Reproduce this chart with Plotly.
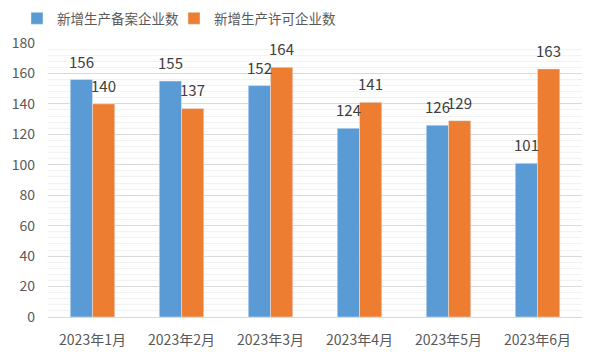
import plotly.graph_objects as go

months = ["2023年1月", "2023年2月", "2023年3月", "2023年4月", "2023年5月", "2023年6月"]
filed = [156, 155, 152, 124, 126, 101]
licensed = [140, 137, 164, 141, 129, 163]
series_names = ["新增生产备案企业数", "新增生产许可企业数"]
y_ticks = [0, 20, 40, 60, 80, 100, 120, 140, 160, 180]

font_family = "Noto Sans CJK SC, Microsoft YaHei, sans-serif"
colors = ["#5B9BD5", "#ED7D31"]
legends = ["legend", "legend2"]

fig = go.Figure()
for name, vals, col, lg in zip(series_names, [filed, licensed], colors, legends):
    fig.add_trace(go.Bar(x=list(range(len(months))), y=vals, name=name,
                         marker_color=col, legend=lg))

# data labels above bars
for k, vals in enumerate([filed, licensed]):
    off = -0.125 if k == 0 else 0.125
    for i, v in enumerate(vals):
        fig.add_annotation(x=i + off, y=v, text=str(v), showarrow=False,
                           xanchor="center", yanchor="bottom", yshift=6,
                           font=dict(size=15, color="#404040", family=font_family))

# page body has an 8px margin, so the figure is 582x355
W, H = 582, 355
ml, mr, mt, mb = 40, 8, 35, 46
pw, ph = W - ml - mr, H - mt - mb

def legend_at(left_px):
    return dict(orientation="h", x=(left_px - ml) / pw, y=1 + (mt - 10.5) / ph,
                xref="paper", yref="paper", xanchor="left", yanchor="middle",
                font=dict(size=13.5, color="#595959"), itemwidth=30,
                bgcolor="rgba(0,0,0,0)")

fig.update_layout(
    width=W, height=H,
    barmode="group", bargap=0.5, bargroupgap=0,
    plot_bgcolor="white", paper_bgcolor="white",
    font=dict(family=font_family, color="#595959", size=14),
    margin=dict(l=ml, r=mr, t=mt, b=mb, autoexpand=False),
    legend=legend_at(9),
    legend2=legend_at(166),
    showlegend=True,
)
fig.update_xaxes(tickvals=list(range(len(months))), ticktext=months, range=[-0.5, 5.5],
                 showline=True, linecolor="#d9d9d9", linewidth=1, ticks="",
                 tickfont=dict(size=14, color="#595959"), ticklabelstandoff=10)
fig.update_yaxes(range=[0, 180], tickvals=y_ticks, showgrid=True, gridcolor="#d9d9d9",
                 zeroline=False, ticks="", tickfont=dict(size=14, color="#595959"),
                 ticklabelstandoff=12,
                 minor=dict(dtick=4, showgrid=True, gridcolor="#f2f2f2"))

fig.write_html("out.html")
